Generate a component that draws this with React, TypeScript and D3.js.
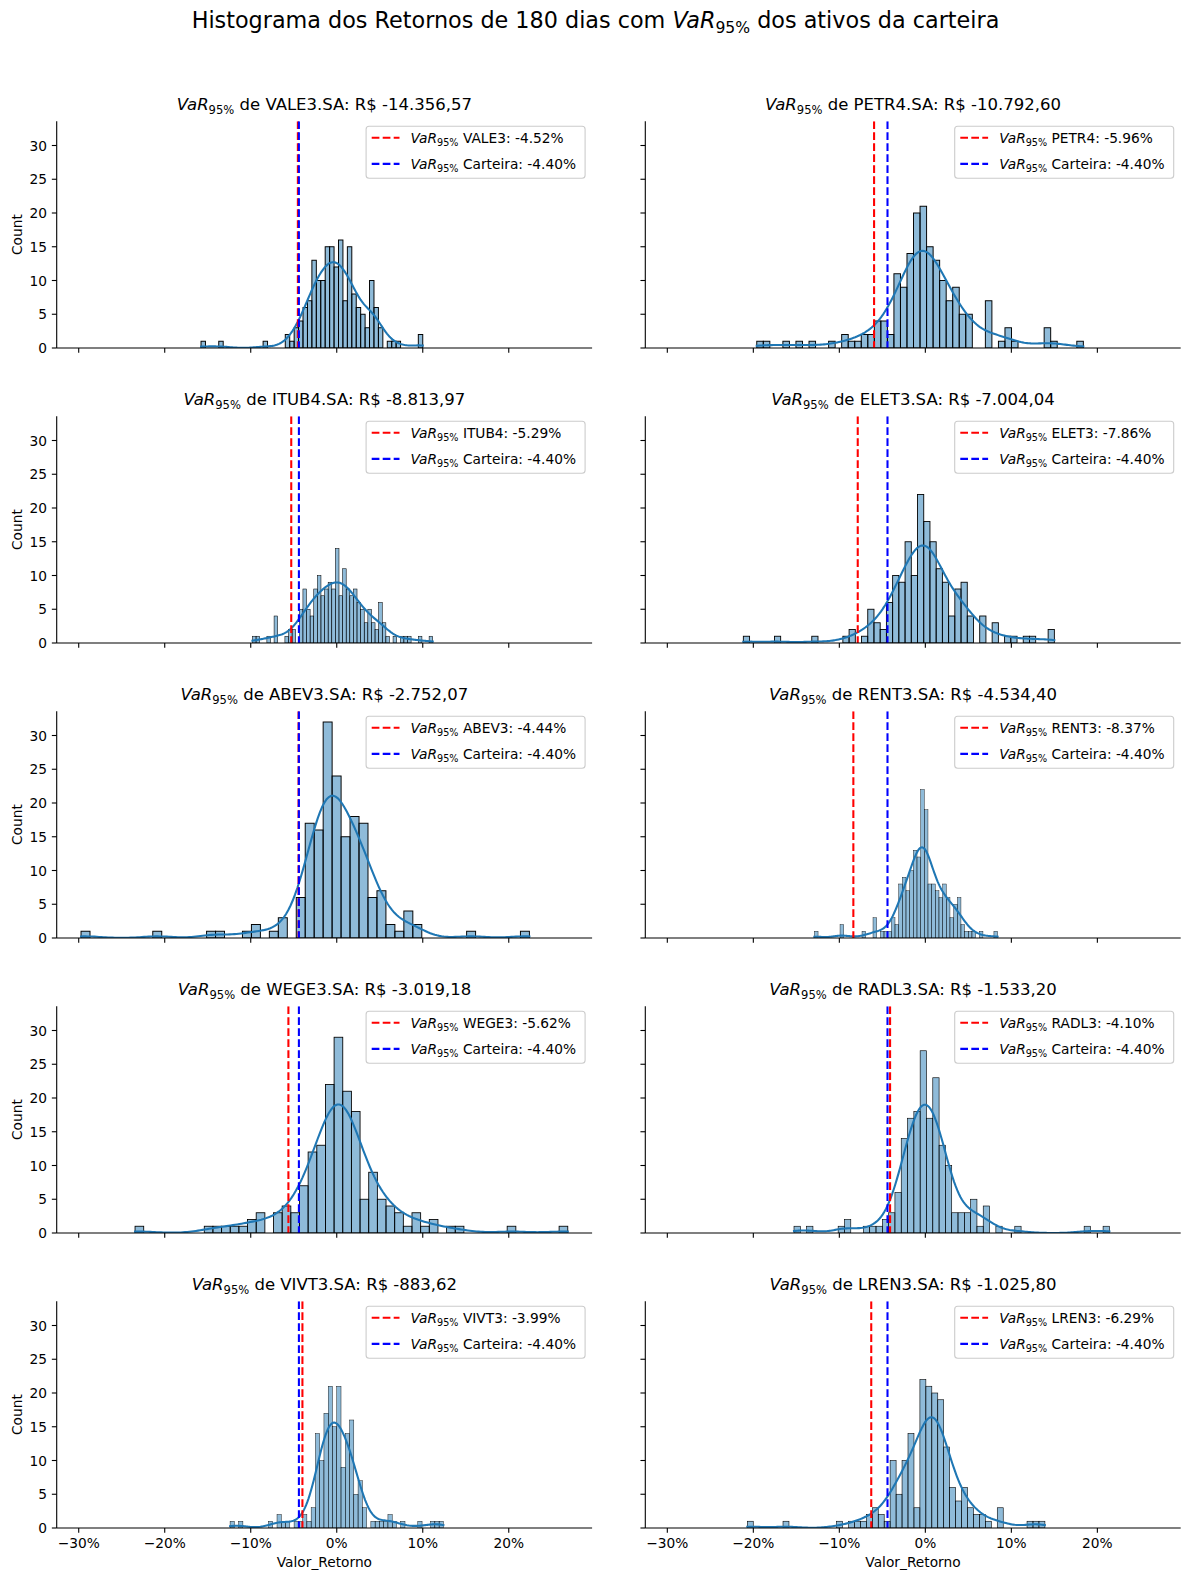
import React from "react";
import * as d3 from "d3";

// ---------- data ----------
const tickers = ["VALE3", "PETR4", "ITUB4", "ELET3", "ABEV3", "RENT3", "WEGE3", "RADL3", "VIVT3", "LREN3"];
const varReais = ["-14.356,57", "-10.792,60", "-8.813,97", "-7.004,04", "-2.752,07", "-4.534,40", "-3.019,18", "-1.533,20", "-883,62", "-1.025,80"];
const varAtivo = [-4.52, -5.96, -5.29, -7.86, -4.44, -8.37, -5.62, -4.10, -3.99, -6.29];
const varCarteira = -4.40;
// histogram range (min, max of returns, %) – 50 bins each
const binMin = [-15.78, -19.6, -9.8, -21.16, -29.73, -12.9, -23.45, -15.27, -12.4, -20.7];
const binMax = [10.0, 18.37, 11.16, 15.0, 22.4, 8.4, 26.86, 21.4, 12.4, 13.9];

const countsVALE3 = [1,0,0,0,1,0,0,0,0,0,0,0,0,0,1,0,0,0,0,2,1,3,4,6,7,13,10,10,15,15,12,16,7,15,8,6,5,3,10,6,3,0,1,1,1,0,0,0,0,2];
const countsPETR4 = [1,1,0,0,1,0,1,0,1,0,0,1,0,2,1,1,2,2,4,4,2,11,9,14,20,21,15,13,10,7,9,5,5,0,0,7,0,1,3,1,0,0,0,0,3,1,0,0,0,1];
const countsITUB4 = [1,1,0,0,1,0,4,0,0,1,2,2,0,5,8,5,4,8,10,7,8,9,8,14,7,11,8,7,8,6,5,3,5,3,2,6,3,1,0,1,0,1,1,1,0,0,1,0,0,1];
const countsELET3 = [1,0,0,0,0,1,0,0,0,0,0,1,0,0,0,0,1,2,0,1,5,3,2,6,10,9,15,10,22,18,15,11,9,4,8,9,4,0,4,0,3,0,1,1,0,1,1,0,0,2];
const countsABEV3 = [1,0,0,0,0,0,0,0,1,0,0,0,0,0,1,1,0,0,1,2,0,1,3,0,6,17,16,32,24,15,18,17,6,7,2,1,4,2,0,0,0,0,0,1,0,0,0,0,0,1];
const countsRENT3 = [1,0,0,0,0,0,0,2,0,0,0,0,0,1,0,0,3,0,1,1,1,3,2,8,9,7,10,13,12,22,19,8,8,7,6,8,6,3,5,6,2,1,1,1,0,1,0,0,0,1];
const countsWEGE3 = [1,0,0,0,0,0,0,0,1,1,1,1,1,2,3,0,3,4,3,7,12,13,22,29,21,18,5,9,5,4,3,1,3,1,2,0,1,1,0,0,0,0,0,1,0,0,0,0,0,1];
const countsRADL3 = [1,0,1,0,0,0,0,1,2,0,0,1,1,1,2,3,6,14,17,18,27,17,23,13,10,3,3,3,5,1,4,0,1,0,0,1,0,0,0,0,0,0,0,0,0,0,1,0,0,1];
const countsVIVT3 = [1,0,1,0,0,0,0,0,0,1,0,2,1,1,0,1,1,2,1,3,14,10,17,21,15,21,9,14,16,5,7,3,0,1,1,1,1,2,1,0,1,0,0,0,1,0,0,1,1,1];
const countsLREN3 = [1,0,0,0,0,0,1,0,0,0,0,0,0,0,0,1,0,1,1,1,2,3,2,1,10,5,10,14,3,22,21,20,19,12,6,4,6,3,2,2,1,0,3,0,0,0,0,1,1,1];
const allCounts = [countsVALE3, countsPETR4, countsITUB4, countsELET3, countsABEV3, countsRENT3, countsWEGE3, countsRADL3, countsVIVT3, countsLREN3];

const xTicks = [-30, -20, -10, 0, 10, 20];
const yTicks = [0, 5, 10, 15, 20, 25, 30];

// ---------- layout ----------
const FIG_W = 1189, FIG_H = 1580;
const AX_W = 535.4, AX_H = 226.8;
const COL_X = [56.7, 645.3];
const ROW_BOTTOM = [348, 643, 938, 1233, 1528];
const FONT = "DejaVu Sans, Verdana, sans-serif";
const C0 = "#1f77b4";

const gLo = d3.min(binMin)!, gHi = d3.max(binMax)!;
const xDomain: [number, number] = [gLo - 0.05 * (gHi - gLo), gHi + 0.05 * (gHi - gLo)];
const yMax = d3.max(allCounts.flat())! * 1.05;

function kde(min: number, max: number, counts: number[]) {
  const nb = counts.length;
  const w = (max - min) / nb;
  const centers = counts.map((_, i) => min + (i + 0.5) * w);
  const N = d3.sum(counts);
  const mean = d3.sum(centers, (c, i) => c * counts[i]) / N;
  const v = d3.sum(centers, (c, i) => counts[i] * (c - mean) ** 2) / (N - 1);
  const bw = Math.sqrt(v) * Math.pow(N, -0.2);
  const grid = d3.range(200).map((i) => min + ((max - min) * i) / 199);
  return grid.map((x) => {
    let s = 0;
    centers.forEach((c, i) => {
      const z = (x - c) / bw;
      s += counts[i] * Math.exp(-0.5 * z * z);
    });
    const dens = s / (N * bw * Math.sqrt(2 * Math.PI));
    return [x, dens * N * w] as [number, number];
  });
}

// seaborn sets the bar edge width from the bin width in pixels at draw time
// (shared x limits grow as panels are drawn)
function edgeWidths() {
  const res: number[] = [];
  let lo = Infinity, hi = -Infinity;
  tickers.forEach((_, i) => {
    lo = Math.min(lo, binMin[i]);
    hi = Math.max(hi, binMax[i]);
    const r = (hi - lo) * 1.1;
    const binPx = (((binMax[i] - binMin[i]) / 50) * AX_W) / r;
    res.push(Math.min(0.1 * binPx, 1.38));
  });
  return res;
}
const EDGE = edgeWidths();

function VaRText({ fs, pre = "", rest }: { fs: number; pre?: string; rest: string }) {
  const d = fs * 0.22;
  return (
    <>
      {pre && <tspan>{pre}</tspan>}
      <tspan fontStyle="italic">VaR</tspan>
      <tspan fontSize={fs * 0.7} dy={d}>95%</tspan>
      <tspan dy={-d}>{rest}</tspan>
    </>
  );
}

function Panel({ idx }: { idx: number }) {
  const col = idx % 2, row = Math.floor(idx / 2);
  const x0 = COL_X[col];
  const bottom = ROW_BOTTOM[row];
  const top = bottom - AX_H;
  const x = d3.scaleLinear().domain(xDomain).range([x0, x0 + AX_W]);
  const y = d3.scaleLinear().domain([0, yMax]).range([bottom, top]);
  const counts = allCounts[idx];
  const mn = binMin[idx], mx = binMax[idx];
  const bw = (mx - mn) / counts.length;
  const line = d3.line<[number, number]>().x((d) => x(d[0])).y((d) => y(d[1]));
  const curve = kde(mn, mx, counts);
  const ew = EDGE[idx];
  const tk = tickers[idx];
  const fsT = 13.76;
  const legW = 219, legH = 52;
  const legX = x0 + AX_W - 7 - legW, legY = top + 5;
  const fmt = (v: number) => (v < 0 ? "\u2212" : "") + Math.abs(v) + "%";
  const clipId = `clip${idx}`;
  return (
    <g>
      <defs>
        <clipPath id={clipId}>
          <rect x={x0} y={top} width={AX_W} height={AX_H} />
        </clipPath>
      </defs>
      <g clipPath={`url(#${clipId})`}>
        {counts.map((c, i) =>
          c > 0 ? (
            <rect
              key={i}
              x={x(mn + i * bw)}
              y={y(c)}
              width={x(mn + (i + 1) * bw) - x(mn + i * bw)}
              height={y(0) - y(c)}
              fill={C0}
              fillOpacity={0.5}
              stroke="#000"
              strokeWidth={ew}
            />
          ) : null
        )}
        <path d={line(curve)!} fill="none" stroke={C0} strokeWidth={2.08} strokeLinecap="square" />
        <line x1={x(varAtivo[idx])} x2={x(varAtivo[idx])} y1={top} y2={bottom} stroke="red" strokeWidth={2.08} strokeDasharray="7.7 3.3" />
        <line x1={x(varCarteira)} x2={x(varCarteira)} y1={top} y2={bottom} stroke="blue" strokeWidth={2.08} strokeDasharray="7.7 3.3" />
      </g>
      {/* spines */}
      <line x1={x0} x2={x0} y1={top} y2={bottom} stroke="#000" strokeWidth={1.1} />
      <line x1={x0} x2={x0 + AX_W} y1={bottom} y2={bottom} stroke="#000" strokeWidth={1.1} />
      {/* x ticks */}
      {xTicks.map((t) => (
        <g key={t}>
          <line x1={x(t)} x2={x(t)} y1={bottom} y2={bottom + 4.86} stroke="#000" strokeWidth={1.1} />
          {row === 4 && (
            <text x={x(t)} y={bottom + 20.3} fontSize={fsT} textAnchor="middle" fontFamily={FONT}>
              {fmt(t)}
            </text>
          )}
        </g>
      ))}
      {/* y ticks */}
      {yTicks.map((t) => (
        <g key={t}>
          <line x1={x0 - 4.86} x2={x0} y1={y(t)} y2={y(t)} stroke="#000" strokeWidth={1.1} />
          {col === 0 && (
            <text x={x0 - 9.7} y={y(t) + 5} fontSize={fsT} textAnchor="end" fontFamily={FONT}>
              {t}
            </text>
          )}
        </g>
      ))}
      {col === 0 && (
        <text
          transform={`translate(21.5,${(top + bottom) / 2}) rotate(-90)`}
          fontSize={fsT}
          textAnchor="middle"
          fontFamily={FONT}
        >
          Count
        </text>
      )}
      {row === 4 && (
        <text x={x0 + AX_W / 2} y={bottom + 39} fontSize={fsT} textAnchor="middle" fontFamily={FONT}>
          Valor_Retorno
        </text>
      )}
      {/* title */}
      <text x={x0 + AX_W / 2} y={top - 11} fontSize={16.5} textAnchor="middle" fontFamily={FONT}>
        <VaRText fs={16.5} rest={` de ${tk}.SA: R$ ${varReais[idx]}`} />
      </text>
      {/* legend */}
      <rect x={legX} y={legY} width={legW} height={legH} rx={3} fill="#fff" fillOpacity={0.8} stroke="#cccccc" strokeWidth={1.1} />
      {[0, 1].map((k) => {
        const ly = legY + 11.5 + k * 26.2;
        return (
          <g key={k}>
            <line x1={legX + 5.6} x2={legX + 33.4} y1={ly} y2={ly} stroke={k === 0 ? "red" : "blue"} strokeWidth={2.08} strokeDasharray="7.7 3.3" />
            <text x={legX + 44.5} y={ly + 5} fontSize={fsT} fontFamily={FONT}>
              <VaRText
                fs={fsT}
                rest={k === 0 ? ` ${tk}: ${varAtivo[idx].toFixed(2)}%` : ` Carteira: ${varCarteira.toFixed(2)}%`}
              />
            </text>
          </g>
        );
      })}
    </g>
  );
}

export default function App() {
  return (
    <svg
      width={FIG_W}
      height={FIG_H}
      viewBox={`0 0 ${FIG_W} ${FIG_H}`}
      style={{ position: "absolute", left: 0, top: 0, background: "#fff" }}
    >
      <rect width={FIG_W} height={FIG_H} fill="#fff" />
      <text x={FIG_W / 2 + 1} y={28} fontSize={22.3} textAnchor="middle" fontFamily={FONT}>
        <VaRText fs={22.3} pre="Histograma dos Retornos de 180 dias com " rest=" dos ativos da carteira" />
      </text>
      {tickers.map((_, i) => (
        <Panel key={i} idx={i} />
      ))}
    </svg>
  );
}
